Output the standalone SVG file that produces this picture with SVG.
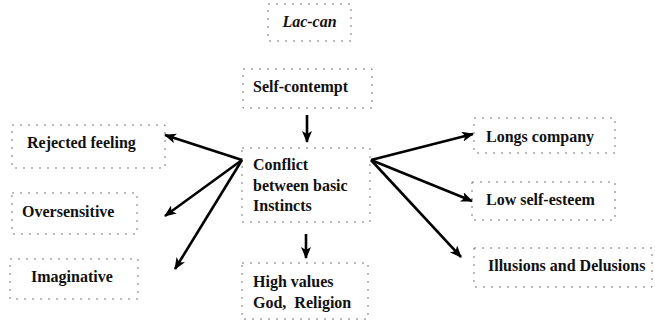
<svg xmlns="http://www.w3.org/2000/svg" width="655" height="322" viewBox="0 0 655 322">
<defs>
<style>
.box{fill:none;stroke:#777;stroke-width:1;stroke-dasharray:2 6}
text{font-family:'Liberation Serif','Times New Roman','DejaVu Serif',serif;font-size:16px;font-weight:bold;fill:#111}
.ti{font-style:italic}
.c{stroke:#000;stroke-width:2.6;fill:none;marker-end:url(#ah)}
</style>
<marker id="ah" markerUnits="userSpaceOnUse" markerWidth="12" markerHeight="10" refX="11" refY="5" orient="auto">
<path d="M0,0 L12,5 L0,10 L3,5 Z" fill="#000"/>
</marker>
</defs>
<rect width="655" height="322" fill="#fff"/>
<g id="lac-can"><rect class="box" x="268" y="4" width="83" height="37"/><text class="ti" x="309.5" y="27" text-anchor="middle">Lac-can</text></g>
<g id="self-contempt"><rect class="box" x="243" y="69" width="129" height="39"/><text x="253" y="92">Self-contempt</text></g>
<g id="conflict"><rect class="box" x="242" y="148" width="128" height="74"/><text x="253" y="170">Conflict</text><text x="253" y="191">between basic</text><text x="253" y="211">Instincts</text></g>
<g id="high-values"><rect class="box" x="242" y="263" width="126" height="56"/><text x="253" y="287">High values</text><text x="253" y="308" xml:space="preserve">God,  Religion</text></g>
<g id="rejected"><rect class="box" x="12" y="125" width="153" height="43"/><text x="27" y="148">Rejected feeling</text></g>
<g id="oversensitive"><rect class="box" x="12" y="193" width="125" height="41"/><text x="22" y="217">Oversensitive</text></g>
<g id="imaginative"><rect class="box" x="10" y="259" width="128" height="40"/><text x="31" y="282">Imaginative</text></g>
<g id="longs"><rect class="box" x="474" y="118" width="141" height="35"/><text x="486" y="142">Longs company</text></g>
<g id="low"><rect class="box" x="472" y="182" width="143" height="38"/><text x="486" y="205">Low self-esteem</text></g>
<g id="illusions"><rect class="box" x="474" y="248" width="178" height="39"/><text x="488" y="271">Illusions and Delusions</text></g>
<g id="connectors">
<line class="c" x1="307" y1="115" x2="307" y2="142"/>
<line class="c" x1="306" y1="234" x2="306" y2="258"/>
<line class="c" x1="242" y1="160" x2="165" y2="135"/>
<line class="c" x1="242" y1="160" x2="165" y2="216"/>
<line class="c" x1="242" y1="160" x2="175" y2="269"/>
<line class="c" x1="371" y1="160" x2="473" y2="134"/>
<line class="c" x1="371" y1="160" x2="472" y2="201"/>
<line class="c" x1="371" y1="160" x2="461" y2="257"/>
</g>
</svg>
